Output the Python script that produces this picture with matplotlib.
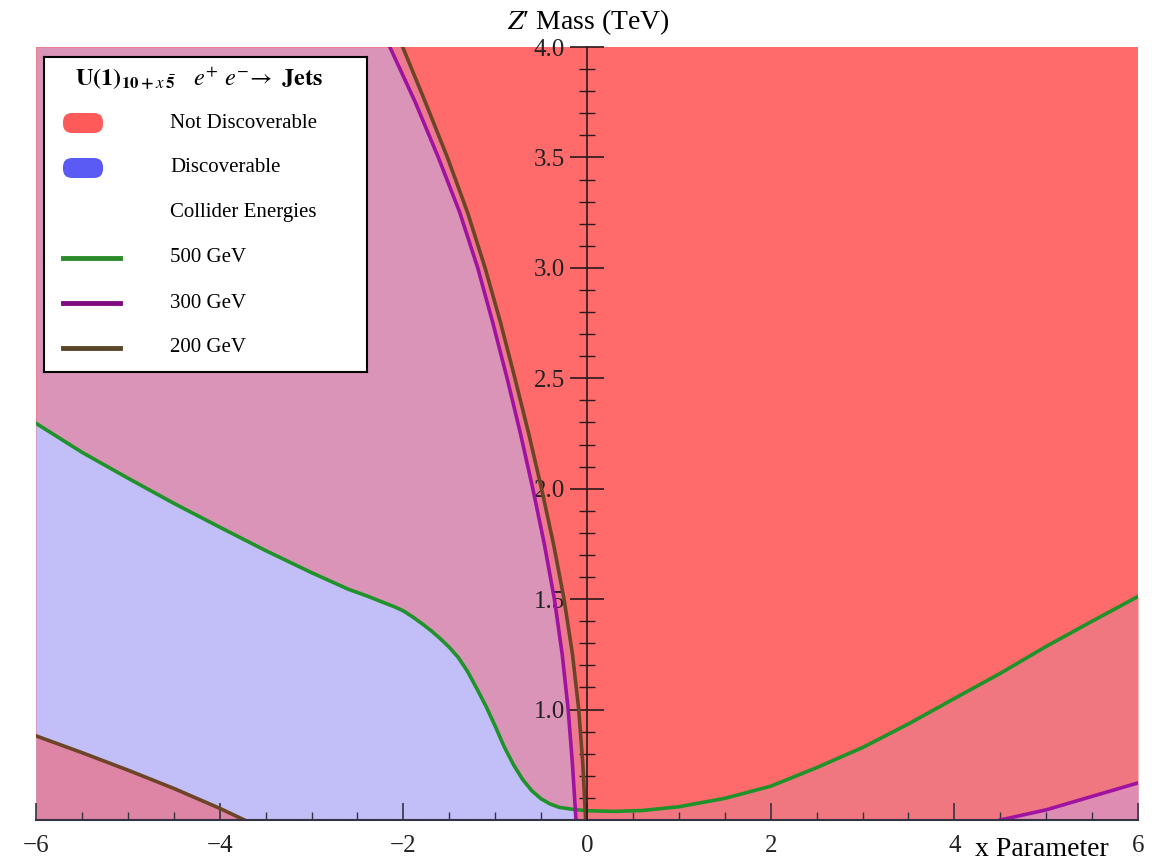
import numpy as np
import matplotlib
matplotlib.use("Agg")
import matplotlib.pyplot as plt
from matplotlib.patches import FancyBboxPatch

plt.rcParams['font.family'] = ['Liberation Serif', 'DejaVu Serif']
plt.rcParams['mathtext.fontset'] = 'stix'

# 500 GeV contour (green), mass vs x
green_x = [-6.0, -5.5, -5.0, -4.5, -4.0, -3.5, -3.0, -2.6, -2.4, -2.2, -2.1, -2.0, -1.9, -1.8, -1.7,
           -1.6, -1.5, -1.4, -1.3, -1.2, -1.1, -1.0, -0.9, -0.8, -0.7, -0.6, -0.5, -0.4, -0.3, -0.15,
           0.0, 0.3, 0.6, 1.0, 1.5, 2.0, 2.5, 3.0, 3.5, 4.0, 4.5, 5.0, 5.5, 6.0]
green_y = [2.296, 2.165, 2.048, 1.934, 1.826, 1.72, 1.62, 1.545, 1.515, 1.482, 1.466, 1.447, 1.42, 1.39, 1.358,
           1.322, 1.282, 1.235, 1.172, 1.095, 1.015, 0.925, 0.83, 0.75, 0.683, 0.632, 0.596, 0.572, 0.557, 0.548,
           0.542, 0.539, 0.543, 0.56, 0.598, 0.653, 0.737, 0.828, 0.935, 1.05, 1.164, 1.286, 1.40, 1.512]

# upper branches of 300 GeV (purple) and 200 GeV (brown), x read at fixed masses
mass_levels = [4.0, 3.75, 3.5, 3.25, 3.0, 2.75, 2.5, 2.25, 2.0, 1.75, 1.5, 1.25, 1.0, 0.75, 0.5]
purple_x = [-2.147, -1.87, -1.619, -1.385, -1.19, -1.025, -0.87, -0.725, -0.59, -0.465, -0.355, -0.27,
            -0.205, -0.158, -0.12]
brown_x = [-2.007, -1.76, -1.52, -1.30, -1.11, -0.94, -0.785, -0.635, -0.495, -0.365, -0.25, -0.158,
           -0.09, -0.045, -0.015]

# lower branches
purple_low_x = [4.5, 5.0, 5.5, 6.0]
purple_low_y = [0.5, 0.546, 0.607, 0.668]
brown_low_x = [-6.0, -5.5, -5.0, -4.5, -4.0, -3.73]
brown_low_y = [0.881, 0.805, 0.726, 0.643, 0.553, 0.5]

x_ticks = [-6, -4, -2, 0, 2, 4, 6]
y_ticks = [1.0, 1.5, 2.0, 2.5, 3.0, 3.5, 4.0]
legend_labels = ["Not Discoverable", "Discoverable", "Collider Energies", "500 GeV", "300 GeV", "200 GeV"]

# colours
c_red = '#FF6A6A'
c_mauve = '#DA94B8'
c_lav = '#C2BEF8'
c_pink = '#F0767F'
c_strip = '#EC7A8E'
c_low_l = '#DE84A4'
c_low_r = '#DE8CB2'
c_green = '#1F922A'
c_purple = '#A012A0'
c_brown = '#6E4426'

fig = plt.figure(figsize=(11.65, 8.68), dpi=100)
ax = fig.add_axes([36/1165, 1-820/868, (1138-36)/1165, (820-47)/868])
ax.set_xlim(-6, 6)
ax.set_ylim(0.5, 4.0)
ax.set_facecolor(c_red)

gx = np.array(green_x)
gy = np.array(green_y)

# regions
ax.fill_betweenx(mass_levels, -6, purple_x, color=c_mauve, lw=0)
ax.fill_betweenx(mass_levels, purple_x, brown_x, color=c_strip, lw=0)
left = gx <= -0.15
ax.fill_between(gx[left], 0.5, gy[left], color=c_lav, lw=0)
right = gx >= 0
ax.fill_between(gx[right], 0.5, gy[right], color=c_pink, lw=0)
ax.fill_between(purple_low_x, 0.5, purple_low_y, color=c_low_r, lw=0)
ax.fill_between(brown_low_x, 0.5, brown_low_y, color=c_low_l, lw=0)

# contour lines
ax.plot(gx, gy, color=c_green, lw=2.6, solid_joinstyle='round')
ax.plot(purple_x, mass_levels, color=c_purple, lw=2.6, solid_joinstyle='round')
ax.plot(purple_low_x, purple_low_y, color=c_purple, lw=2.6)
ax.plot(brown_x, mass_levels, color=c_brown, lw=2.6, solid_joinstyle='round')
ax.plot(brown_low_x, brown_low_y, color=c_brown, lw=2.6)

# Mathematica-like axes
ax.spines['top'].set_visible(False)
ax.spines['right'].set_visible(False)
ax.spines['left'].set_position(('data', 0))
ax.spines['left'].set_color('#2a1a1a')
ax.spines['left'].set_linewidth(1.2)
ax.spines['bottom'].set_color('#333344')
ax.spines['bottom'].set_linewidth(1.5)
ax.spines['left'].set_zorder(5)

ax.set_xticks(x_ticks)
ax.set_xticks(np.arange(-6, 6.01, 0.5), minor=True)
ax.set_xticklabels([str(t).replace('-', '\u2212') for t in x_ticks])
ax.set_yticks(y_ticks)
ax.set_yticks(np.arange(6, 40) / 10, minor=True)
ax.set_yticklabels(['%.1f' % t for t in y_ticks])

ax.tick_params(axis='x', which='major', direction='in', length=12, width=1.2,
               labelsize=18, pad=11, color='#333344', labelcolor='#222222')
ax.tick_params(axis='x', which='minor', direction='in', length=6, width=1.0, color='#333344')
ax.tick_params(axis='y', which='major', direction='inout', length=24, width=1.2,
               labelsize=18, pad=4, color='#2a1a1a', labelcolor='#222222')
ax.tick_params(axis='y', which='minor', direction='inout', length=12, width=1.0, color='#2a1a1a')

fig.text(588/1165, 1-22/868, "$Z$\u2032 Mass (TeV)", ha='center', va='center', fontsize=20)
fig.text(1042/1165, 1-850/868, "x Parameter", ha='center', va='center', fontsize=20)

# legend box drawn in pixel units
lax = fig.add_axes([44/1165, 1-372/868, 323/1165, 315/868])
lax.set_xlim(0, 323)
lax.set_ylim(315, 0)
lax.set_xticks([])
lax.set_yticks([])
lax.set_facecolor('white')
for s in lax.spines.values():
    s.set_color('black')
    s.set_linewidth(1.5)

lax.text(31, 22, r"$\mathbf{U(1)}_{\mathbf{10+}x\,\bar{\mathbf{5}}}$   $e^{+}\ e^{-}\!\rightarrow$$\mathbf{\ Jets}$",
         ha='left', va='center', fontsize=17.5)
rows = [66, 111, 156, 201, 246, 291]
for y, lab in zip(rows, legend_labels):
    lax.text(126, y, lab, ha='left', va='center', fontsize=15)
lax.add_patch(FancyBboxPatch((19, rows[0]-10), 40, 20, boxstyle="round,pad=0,rounding_size=9",
                             fc='#FF5A5A', ec='none'))
lax.add_patch(FancyBboxPatch((19, rows[1]-10), 40, 20, boxstyle="round,pad=0,rounding_size=9",
                             fc='#5A5AF5', ec='none'))
lax.plot([19, 76], [rows[3], rows[3]], color='#2A8A2A', lw=3.5)
lax.plot([19, 76], [rows[4], rows[4]], color='#800A80', lw=3.5)
lax.plot([19, 76], [rows[5], rows[5]], color='#5A4628', lw=3.5)

fig.savefig('out.png', dpi=100)
